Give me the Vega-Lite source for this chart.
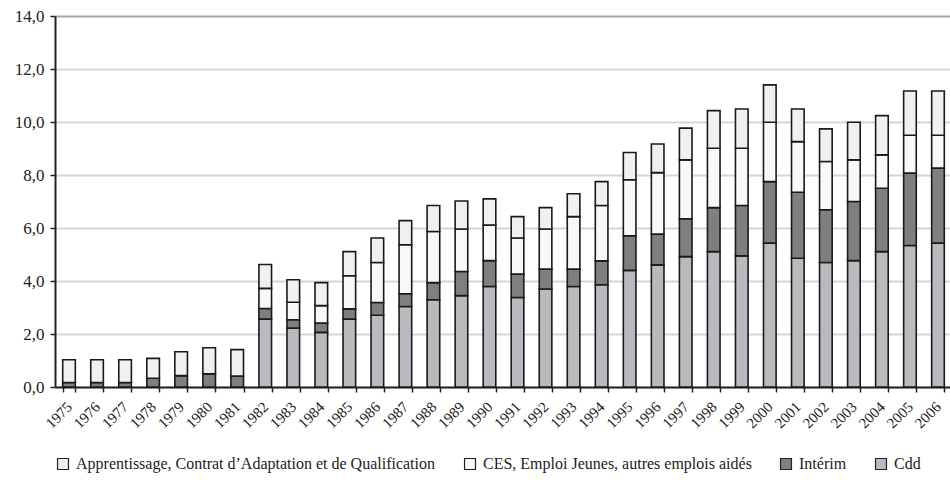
{
  "$schema": "https://vega.github.io/schema/vega-lite/v6.json",
  "width": 897,
  "height": 371,
  "autosize": {"type": "none"},
  "padding": {"left": 55, "top": 16, "right": 0, "bottom": 103},
  "background": "white",
  "datasets": {
    "wide": [
      {"annee": "1975", "Cdd": 0.0, "Interim": 0.17, "CES": 0.0, "App": 0.86},
      {"annee": "1976", "Cdd": 0.0, "Interim": 0.17, "CES": 0.0, "App": 0.86},
      {"annee": "1977", "Cdd": 0.0, "Interim": 0.17, "CES": 0.0, "App": 0.86},
      {"annee": "1978", "Cdd": 0.0, "Interim": 0.33, "CES": 0.0, "App": 0.75},
      {"annee": "1979", "Cdd": 0.0, "Interim": 0.43, "CES": 0.0, "App": 0.90},
      {"annee": "1980", "Cdd": 0.0, "Interim": 0.50, "CES": 0.0, "App": 0.98},
      {"annee": "1981", "Cdd": 0.0, "Interim": 0.41, "CES": 0.0, "App": 1.00},
      {"annee": "1982", "Cdd": 2.56, "Interim": 0.40, "CES": 0.76, "App": 0.90},
      {"annee": "1983", "Cdd": 2.22, "Interim": 0.32, "CES": 0.66, "App": 0.85},
      {"annee": "1984", "Cdd": 2.06, "Interim": 0.35, "CES": 0.66, "App": 0.87},
      {"annee": "1985", "Cdd": 2.56, "Interim": 0.39, "CES": 1.25, "App": 0.91},
      {"annee": "1986", "Cdd": 2.71, "Interim": 0.48, "CES": 1.51, "App": 0.92},
      {"annee": "1987", "Cdd": 3.04, "Interim": 0.48, "CES": 1.85, "App": 0.91},
      {"annee": "1988", "Cdd": 3.29, "Interim": 0.65, "CES": 1.93, "App": 0.98},
      {"annee": "1989", "Cdd": 3.45, "Interim": 0.91, "CES": 1.60, "App": 1.06},
      {"annee": "1990", "Cdd": 3.79, "Interim": 0.98, "CES": 1.34, "App": 0.99},
      {"annee": "1991", "Cdd": 3.38, "Interim": 0.88, "CES": 1.36, "App": 0.81},
      {"annee": "1992", "Cdd": 3.70, "Interim": 0.75, "CES": 1.51, "App": 0.81},
      {"annee": "1993", "Cdd": 3.79, "Interim": 0.66, "CES": 1.98, "App": 0.86},
      {"annee": "1994", "Cdd": 3.86, "Interim": 0.90, "CES": 2.09, "App": 0.90},
      {"annee": "1995", "Cdd": 4.40, "Interim": 1.31, "CES": 2.11, "App": 1.03},
      {"annee": "1996", "Cdd": 4.61, "Interim": 1.16, "CES": 2.32, "App": 1.08},
      {"annee": "1997", "Cdd": 4.92, "Interim": 1.43, "CES": 2.22, "App": 1.20},
      {"annee": "1998", "Cdd": 5.11, "Interim": 1.66, "CES": 2.24, "App": 1.42},
      {"annee": "1999", "Cdd": 4.95, "Interim": 1.90, "CES": 2.16, "App": 1.48},
      {"annee": "2000", "Cdd": 5.43, "Interim": 2.32, "CES": 2.24, "App": 1.41},
      {"annee": "2001", "Cdd": 4.86, "Interim": 2.49, "CES": 1.91, "App": 1.23},
      {"annee": "2002", "Cdd": 4.70, "Interim": 1.99, "CES": 1.82, "App": 1.23},
      {"annee": "2003", "Cdd": 4.77, "Interim": 2.23, "CES": 1.57, "App": 1.42},
      {"annee": "2004", "Cdd": 5.11, "Interim": 2.39, "CES": 1.26, "App": 1.48},
      {"annee": "2005", "Cdd": 5.34, "Interim": 2.73, "CES": 1.43, "App": 1.67},
      {"annee": "2006", "Cdd": 5.43, "Interim": 2.83, "CES": 1.24, "App": 1.67}
    ]
  },
  "data": {"name": "wide"},
  "transform": [
    {"fold": ["Cdd", "Interim", "CES", "App"], "as": ["cle", "valeur"]},
    {"lookup": "cle", "from": {"data": {"values": [
      {"cle": "Cdd", "serie": "Cdd", "ordre": 1},
      {"cle": "Interim", "serie": "Intérim", "ordre": 2},
      {"cle": "CES", "serie": "CES, Emploi Jeunes, autres emplois aidés", "ordre": 3},
      {"cle": "App", "serie": "Apprentissage, Contrat d’Adaptation et de Qualification", "ordre": 4}
    ]}, "key": "cle", "fields": ["serie", "ordre"]}}
  ],
  "mark": {"type": "bar", "stroke": "#1a1a1a", "strokeWidth": 1.6},
  "encoding": {
    "x": {
      "field": "annee", "type": "ordinal",
      "scale": {"paddingInner": 0.55, "paddingOuter": 0.275},
      "axis": {
        "title": null, "labelAngle": -45, "labelAlign": "right", "labelBaseline": "middle",
        "labelFont": "Liberation Serif", "labelFontSize": 15, "labelColor": "#222",
        "labelPadding": 12, "tickBand": "extent", "tickSize": 5, "tickColor": "#222",
        "tickWidth": 1.5, "domainColor": "#222", "domainWidth": 2, "grid": false
      }
    },
    "y": {
      "field": "valeur", "type": "quantitative", "stack": "zero",
      "scale": {"domain": [0, 14], "nice": false},
      "axis": {
        "title": null, "values": [0, 2, 4, 6, 8, 10, 12, 14],
        "labelExpr": "replace(format(datum.value, '.1f'), '.', ',')",
        "labelFont": "Liberation Serif", "labelFontSize": 17, "labelColor": "#222",
        "labelPadding": 6, "tickSize": 5, "tickColor": "#222", "tickWidth": 1.5,
        "domainColor": "#222", "domainWidth": 2,
        "grid": true, "gridWidth": 2,
        "gridColor": {"condition": {"test": "datum.value == 14", "value": "#a6a6a6"}, "value": "#d6d6d6"}
      }
    },
    "color": {
      "field": "serie", "type": "nominal",
      "scale": {
        "domain": ["Apprentissage, Contrat d’Adaptation et de Qualification", "CES, Emploi Jeunes, autres emplois aidés", "Intérim", "Cdd"],
        "range": ["#eef0f2", "#f8f8f8", "#7e7f81", "#b9babd"]
      },
      "legend": {
        "title": null, "orient": "none", "direction": "horizontal", "columns": 4,
        "legendX": 0, "legendY": 440, "symbolType": "square", "symbolSize": 120,
        "symbolStrokeColor": "#222", "symbolStrokeWidth": 1.2, "symbolOpacity": 1,
        "labelFont": "Liberation Serif", "labelFontSize": 16, "labelColor": "#222",
        "columnPadding": 26, "labelLimit": 600, "labelOffset": 5
      }
    },
    "order": {"field": "ordre", "type": "quantitative", "sort": "ascending"}
  },
  "config": {"font": "Liberation Serif", "view": {"stroke": null}, "legend": {"labelFont": "Liberation Serif"}}
}
